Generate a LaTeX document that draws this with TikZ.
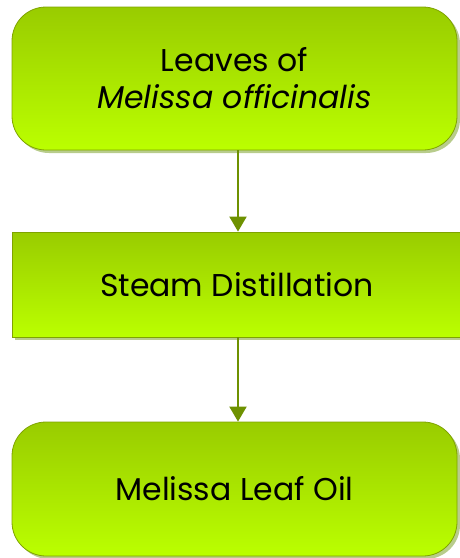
\documentclass[tikz,border=0pt]{standalone}
\usepackage{fontspec}
\setmainfont{Poppins}
\usepackage{tikz}
\usetikzlibrary{arrows.meta, shadows}
\definecolor{leaftop}{HTML}{99CC00}
\definecolor{leafbot}{HTML}{BBFF00}
\definecolor{leafedge}{HTML}{7FA300}
\definecolor{stem}{HTML}{6E9100}
\definecolor{shade}{HTML}{B8CC8C}

\begin{document}
\begin{tikzpicture}[x=1pt, y=-1pt,
    box/.style={draw=leafedge, line width=0.8pt, top color=leaftop, bottom color=leafbot,
      drop shadow={shadow xshift=3pt, shadow yshift=-3pt, fill=shade, opacity=1},
      inner sep=0pt, align=center, font=\fontsize{31.5}{37}\selectfont},
    rbox/.style={box, rounded corners=34pt},
    flow/.style={draw=stem, line width=2pt, -{Triangle[length=15pt, width=17pt]}}]
    \useasboundingbox (0,0) rectangle (459,558);
    \node[rbox, minimum width=445pt, minimum height=143pt] (leaves) at (234.5,78.5)
      {Leaves of\\\textit{Melissa officinalis}};
    \node[box, minimum width=450pt, minimum height=105pt] (steam) at (237,284.5)
      {Steam Distillation};
    \node[rbox, minimum width=445pt, minimum height=134pt] (oil) at (234.5,489)
      {Melissa Leaf Oil};
    \draw[flow] (leaves.south -| 238,0) -- (steam.north -| 238,0);
    \draw[flow] (steam.south -| 238,0) -- (oil.north -| 238,0);
  \end{tikzpicture}
\end{document}
